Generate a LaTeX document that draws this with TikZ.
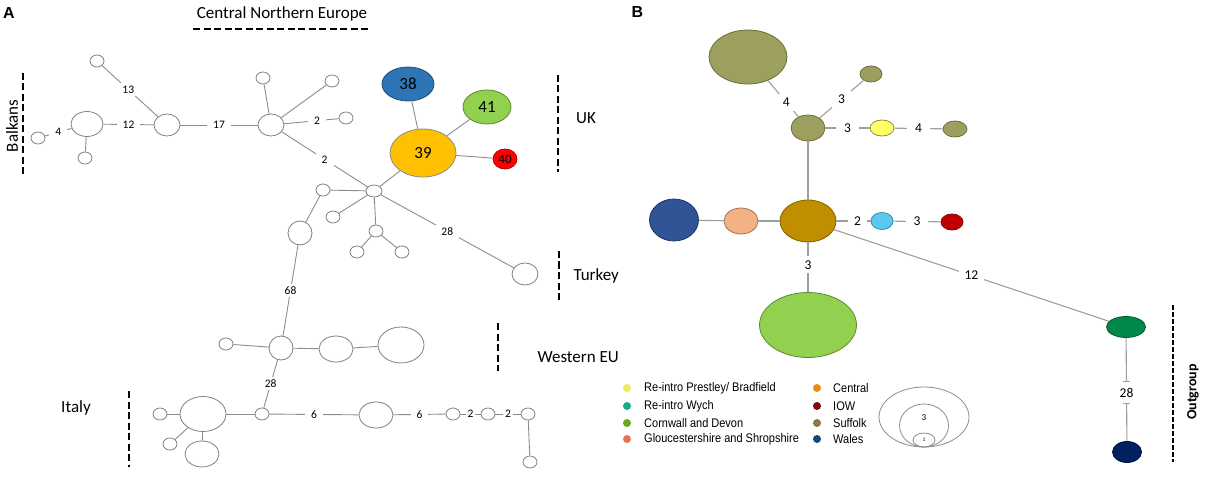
\documentclass[tikz,border=0pt]{standalone}
\usepackage{fontspec}
\setmainfont{Carlito}
\newfontfamily\arialf{Liberation Sans}
\newfontfamily\arialn[FakeStretch=0.88]{Liberation Sans}
\usetikzlibrary{shapes.geometric}
\definecolor{edgeA}{HTML}{8C8C8C}
\definecolor{edgeB}{HTML}{9E9E9E}
\definecolor{c38}{HTML}{2E75B6}
\definecolor{c38o}{HTML}{1F4E79}
\definecolor{c41}{HTML}{92D050}
\definecolor{c41o}{HTML}{5A8A2A}
\definecolor{c39}{HTML}{FFC000}
\definecolor{c40}{HTML}{FF0000}
\definecolor{c40o}{HTML}{C00000}
\definecolor{olive}{HTML}{9C9F5E}
\definecolor{oliveo}{HTML}{6B6E3A}
\definecolor{yel}{HTML}{FFFF66}
\definecolor{yelo}{HTML}{8B8B3A}
\definecolor{central}{HTML}{BF8F00}
\definecolor{centralo}{HTML}{7F6000}
\definecolor{wales}{HTML}{2F5597}
\definecolor{waleso}{HTML}{1F3864}
\definecolor{salmon}{HTML}{F4B183}
\definecolor{salmono}{HTML}{A0705A}
\definecolor{lblue}{HTML}{5BC8F0}
\definecolor{lblueo}{HTML}{3A8AB0}
\definecolor{iow}{HTML}{C00000}
\definecolor{iowo}{HTML}{800000}
\definecolor{corn}{HTML}{92D050}
\definecolor{corno}{HTML}{5E8A2E}
\definecolor{outg}{HTML}{00884A}
\definecolor{outgo}{HTML}{005A30}
\definecolor{navy}{HTML}{002060}
\definecolor{navyo}{HTML}{001040}
\definecolor{lg1}{HTML}{F2EA5C}
\definecolor{lg2}{HTML}{1DA88A}
\definecolor{lg3}{HTML}{6AA51E}
\definecolor{lg4}{HTML}{E8705A}
\definecolor{lg5}{HTML}{E98C0E}
\definecolor{lg6}{HTML}{7B0B0B}
\definecolor{lg7}{HTML}{8A7A4A}
\definecolor{lg8}{HTML}{10497A}
\begin{document}
\begin{tikzpicture}[x=1pt,y=-1pt,
  hA/.style={ellipse, draw=black!50, line width=0.8pt, fill=white, inner sep=0pt},
  hB/.style={ellipse, line width=0.8pt, inner sep=0pt},
  sz/.style 2 args={minimum width=2*#1, minimum height=2*#2},
  eA/.style={draw=edgeA, line width=0.9pt},
  eB/.style={draw=edgeB, line width=1.1pt},
  lA/.style={fill=white, inner xsep=6pt, inner ysep=2.5pt, font=\fontsize{11.5}{12}\selectfont},
  lB/.style={fill=white, inner xsep=6pt, inner ysep=4pt, font=\fontsize{13.5}{14}\selectfont},
  reg/.style={font=\fontsize{17}{18}\selectfont},
  dshA/.style={line width=2.6pt, dash pattern=on 7pt off 3.5pt},
  dshB/.style={line width=2.2pt, dash pattern=on 4.5pt off 2.5pt},
  ldot/.style={circle, inner sep=0pt, minimum size=8pt},
  ltxt/.style={anchor=west, inner sep=0pt, font=\arialn\fontsize{12.5}{13}\selectfont},
  panel/.style={font=\arialf\bfseries\fontsize{16}{17}\selectfont}
]
\useasboundingbox (0,0) rectangle (1205,481);

% ---------------- Panel A ----------------
\node[panel] (pA) at (9,12.5) {A};
\node[reg] (tCNE) at (282,14) {Central Northern Europe};
\coordinate (cneL) at (193,29); \coordinate (cneR) at (370,29);
\draw[dshA] (cneL) -- (cneR);
\node[reg, rotate=90] (tBalk) at (12,126) {Balkans};
\coordinate (bkT) at (23,73); \coordinate (bkB) at (23,175);
\draw[dshA] (bkT) -- (bkB);
\node[reg] (tUK) at (586,118) {UK};
\coordinate (ukT) at (558,75); \coordinate (ukB) at (558,172);
\draw[dshA] (ukT) -- (ukB);
\node[reg, anchor=west] (tTur) at (570,276) {Turkey};
\coordinate (tuT) at (559,251); \coordinate (tuB) at (559,300);
\draw[dshA] (tuT) -- (tuB);
\node[reg, anchor=west] (tWEU) at (534,357) {Western EU};
\coordinate (weT) at (498,323); \coordinate (weB) at (498,371);
\draw[dshA] (weT) -- (weB);
\node[reg] (tIt) at (76,408) {Italy};
\coordinate (itT) at (129,391); \coordinate (itB) at (129,467);
\draw[dshA] (itT) -- (itB);

\node[hA, sz={7}{6}] (a1) at (38,138) {};
\node[hA, sz={16}{12.5}] (a2) at (87,124) {};
\node[hA, sz={7}{6}] (a3) at (85,158) {};
\node[hA, sz={7}{6}] (a4) at (97,61) {};
\node[hA, sz={13}{11}] (a5) at (167,125) {};
\node[hA, sz={13}{11}] (a6) at (271,125) {};
\node[hA, sz={7}{6}] (a7) at (263,78) {};
\node[hA, sz={7}{6}] (a8) at (332,81) {};
\node[hA, sz={7}{6}] (a9) at (346,118) {};
\node[hA, sz={8}{6}] (a10) at (374,191) {};
\node[hA, sz={7}{6}] (a11) at (323,190) {};
\node[hA, sz={12}{12}] (a12) at (300,233) {};
\node[hA, sz={7}{6}] (a13) at (333,217) {};
\node[hA, sz={7}{6}] (a14) at (376,231) {};
\node[hA, sz={7}{6}] (a15) at (357,252) {};
\node[hA, sz={7}{6}] (a16) at (402,252) {};
\node[hA, sz={13}{11}] (a17) at (525,274) {};
\node[hA, sz={7}{6}] (a18) at (226,344) {};
\node[hA, sz={12}{12}] (a19) at (281,348) {};
\node[hA, sz={17}{13}] (a20) at (336,349) {};
\node[hA, sz={23}{18}] (a21) at (401,345) {};
\node[hA, sz={7}{6}] (a22) at (262,414) {};
\node[hA, sz={23}{17.5}] (a23) at (203,414) {};
\node[hA, sz={7}{6}] (a24) at (160,414) {};
\node[hA, sz={7}{6}] (a25) at (170,444) {};
\node[hA, sz={17}{13}] (a26) at (202,454) {};
\node[hA, sz={17}{13}] (a27) at (376,415) {};
\node[hA, sz={7}{6}] (a28) at (453,414) {};
\node[hA, sz={7}{6}] (a29) at (488,414) {};
\node[hA, sz={7}{6}] (a30) at (528,414) {};
\node[hA, sz={7}{6}] (a31) at (530,462) {};

\node[ellipse, draw=c38o, fill=c38, line width=0.8pt, inner sep=0pt, sz={26}{17}, font=\fontsize{17}{18}\selectfont] (n38) at (408,84) {38};
\node[ellipse, draw=c41o, fill=c41, line width=0.8pt, inner sep=0pt, sz={24}{17}, font=\fontsize{17}{18}\selectfont] (n41) at (487,107) {41};
\node[ellipse, draw=black!45, fill=c39, line width=0.8pt, inner sep=0pt, sz={33}{24}, font=\fontsize{17}{18}\selectfont] (n39) at (423,153) {39};
\node[ellipse, draw=c40o, fill=c40, line width=0.8pt, inner sep=0pt, sz={12}{10}, font=\fontsize{13}{14}\selectfont] (n40) at (505,159) {40};

\draw[eA] (a1) -- node[lA]{4} (a2);
\draw[eA] (a2) -- (a3);
\draw[eA] (a2) -- node[lA]{12} (a5);
\draw[eA] (a4) -- node[lA, pos=0.47]{13} (a5);
\draw[eA] (a5) -- node[lA]{17} (a6);
\draw[eA] (a6) -- (a7);
\draw[eA] (a6) -- (a8);
\draw[eA] (a6) -- node[lA, pos=0.6]{2} (a9);
\draw[eA] (a6) -- node[lA]{2} (a10);
\draw[eA] (a10) -- (n39);
\draw[eA] (n39) -- (n38);
\draw[eA] (n39) -- (n41);
\draw[eA] (n39) -- (n40);
\draw[eA] (a10) -- (a11);
\draw[eA] (a11) -- (a12);
\draw[eA] (a10) -- (a13);
\draw[eA] (a10) -- (a14);
\draw[eA] (a14) -- (a15);
\draw[eA] (a14) -- (a16);
\draw[eA] (a10) -- node[lA]{28} (a17);
\draw[eA] (a12) -- node[lA]{68} (a19);
\draw[eA] (a18) -- (a19);
\draw[eA] (a19) -- (a20);
\draw[eA] (a20) -- (a21);
\draw[eA] (a19) -- node[lA]{28} (a22);
\draw[eA] (a22) -- (a23);
\draw[eA] (a23) -- (a24);
\draw[eA] (a23) -- (a25);
\draw[eA] (a23) -- (a26);
\draw[eA] (a22) -- node[lA]{6} (a27);
\draw[eA] (a27) -- node[lA]{6} (a28);
\draw[eA] (a28) -- node[lA, inner xsep=2pt]{2} (a29);
\draw[eA] (a29) -- node[lA, inner xsep=2pt]{2} (a30);
\draw[eA] (a30) -- (a31);

% ---------------- Panel B ----------------
\node[panel] (pB) at (637.5,12) {B};

\node[hB, draw=oliveo, fill=olive, sz={39}{27}] (b1) at (748,57) {};
\node[hB, draw=oliveo, fill=olive, sz={11}{8}] (b2) at (871,74) {};
\node[hB, draw=oliveo, fill=olive, sz={17}{13}] (b3) at (808,128) {};
\node[hB, draw=yelo, fill=yel, sz={12}{8}] (b4) at (882,128) {};
\node[hB, draw=oliveo, fill=olive, sz={12}{8}] (b5) at (955,129) {};
\node[hB, draw=centralo, fill=central, sz={28}{21}] (b6) at (808,221) {};
\node[hB, draw=waleso, fill=wales, sz={24.5}{21}] (b7) at (674,220) {};
\node[hB, draw=salmono, fill=salmon, sz={17}{13}] (b8) at (741,221) {};
\node[hB, draw=lblueo, fill=lblue, sz={11}{8.5}] (b9) at (882,221) {};
\node[hB, draw=iowo, fill=iow, sz={11}{8}] (b10) at (952,222) {};
\node[hB, draw=corno, fill=corn, sz={48.5}{32.5}] (b11) at (808,325) {};
\node[hB, draw=outgo, fill=outg, sz={19.5}{10.5}] (b12) at (1126,327) {};
\node[hB, draw=navyo, fill=navy, sz={14.5}{10.5}] (b13) at (1127,452) {};

\draw[eB] (b1) -- node[lB, pos=0.6]{4} (b3);
\draw[eB] (b3) -- node[lB]{3} (b2);
\draw[eB] (b3) -- node[lB, inner xsep=8pt]{3} (b4);
\draw[eB] (b4) -- node[lB, inner xsep=8pt]{4} (b5);
\draw[eB] (b3) -- (b6);
\draw[eB] (b7) -- (b8);
\draw[eB] (b8) -- (b6);
\draw[eB] (b6) -- node[lB, pos=0.62]{2} (b9);
\draw[eB] (b9) -- node[lB, inner xsep=8pt]{3} (b10);
\draw[eB] (b6) -- node[lB, pos=0.45]{3} (b11);
\draw[eB] (b6) -- node[lB]{12} (b12);
\draw[eB] (b12) -- node[lB, inner sep=0pt, minimum height=21pt, minimum width=18pt, pos=0.53] (l28) {28} (b13);
\draw[eB, line width=0.8pt] ([xshift=-3.5pt]l28.north) -- ([xshift=3.5pt]l28.north);
\draw[eB, line width=0.8pt] ([xshift=-3.5pt]l28.south) -- ([xshift=3.5pt]l28.south);

\coordinate (ogT) at (1173,305); \coordinate (ogB) at (1173,462);
\draw[dshB] (ogT) -- (ogB);
\node[rotate=90, font=\bfseries\fontsize{14}{15}\selectfont] (tOut) at (1193,392) {Outgroup};

% legend
\node[ldot, fill=lg1] (d1) at (627,388) {};
\node[ldot, fill=lg2] (d2) at (627,406) {};
\node[ldot, fill=lg3] (d3) at (627,423) {};
\node[ldot, fill=lg4] (d4) at (627,439) {};
\node[ldot, fill=lg5] (d5) at (817,388) {};
\node[ldot, fill=lg6] (d6) at (817,406) {};
\node[ldot, fill=lg7] (d7) at (817,423) {};
\node[ldot, fill=lg8] (d8) at (817,439) {};
\node[ltxt] (t1) at (644,388) {Re-intro Prestley/ Bradfield};
\node[ltxt] (t2) at (644,406) {Re-intro Wych};
\node[ltxt] (t3) at (644,423) {Cornwall and Devon};
\node[ltxt] (t4) at (644,439) {Gloucestershire and Shropshire};
\node[ltxt] (t5) at (833,388) {Central};
\node[ltxt] (t6) at (833,406) {IOW};
\node[ltxt] (t7) at (833,423) {Suffolk};
\node[ltxt] (t8) at (833,439) {Wales};

% size legend
\node[ellipse, draw=edgeA, line width=0.8pt, inner sep=0pt, sz={45}{30}] (s1) at (924,417) {};
\node[ellipse, draw=edgeA, line width=0.8pt, inner sep=0pt, sz={24.5}{21.5}] (s2) at (924,425.5) {};
\node[ellipse, draw=edgeA, line width=0.8pt, inner sep=0pt, sz={11}{7}] (s3) at (924,440) {};
\node[inner sep=0pt, font=\fontsize{9}{10}\selectfont] (s2t) at (924,418) {3};
\node[inner sep=0pt, font=\fontsize{5.5}{6}\selectfont] (s3t) at (924,440) {1};
\end{tikzpicture}
\end{document}
